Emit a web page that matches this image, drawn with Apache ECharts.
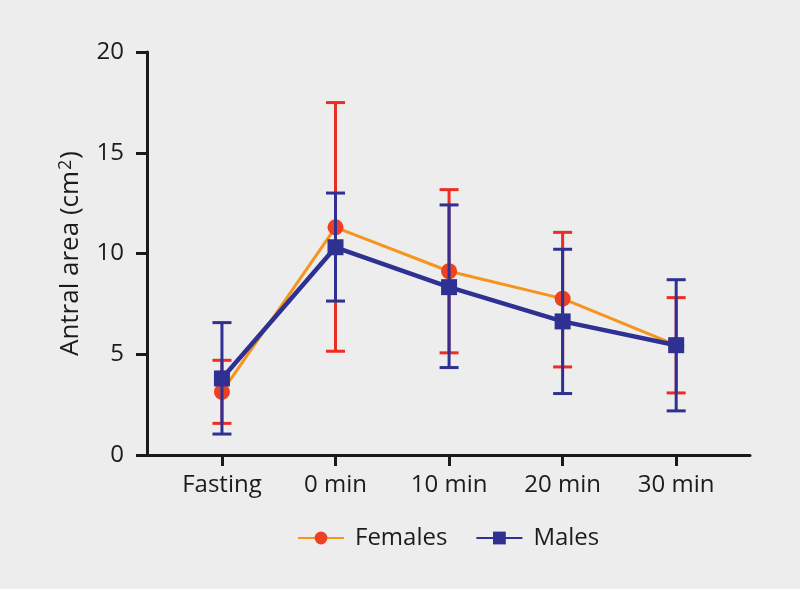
<!DOCTYPE html>
<html>
<head>
<meta charset="utf-8">
<script src="https://cdn.jsdelivr.net/npm/echarts@6/dist/echarts.min.js"></script>
<style>
html,body{margin:0;padding:0;background:#ededed;}
#c{width:800px;height:589px;}
</style>
</head>
<body>
<div id="c"></div>
<script>
var categories = ['Fasting', '0 min', '10 min', '20 min', '30 min'];
var femalesMean = [3.13, 11.3, 9.12, 7.76, 5.45];
var femalesLow  = [1.57, 5.15, 5.07, 4.37, 3.08];
var femalesHigh = [4.70, 17.49, 13.17, 11.05, 7.81];
var malesMean = [3.80, 10.31, 8.33, 6.63, 5.45];
var malesLow  = [1.04, 7.64, 4.34, 3.05, 2.19];
var malesHigh = [6.57, 13.0, 12.41, 10.21, 8.70];
var yTicks = [0, 5, 10, 15, 20];

var FONT = '"Open Sans", "Noto Sans", sans-serif';
var TXT = '#1d1b1c';

function pts(arr) { return arr.map(function (v, i) { return [i, v]; }); }
function errData(lo, hi) { return lo.map(function (v, i) { return [i, v, hi[i]]; }); }
function errRender(color, cap) {
  return function (params, api) {
    var x = api.value(0);
    var p1 = api.coord([x, api.value(1)]);
    var p2 = api.coord([x, api.value(2)]);
    var st = { stroke: color, lineWidth: 3 };
    return {
      type: 'group',
      children: [
        { type: 'line', shape: { x1: p1[0], y1: p1[1], x2: p2[0], y2: p2[1] }, style: st },
        { type: 'line', shape: { x1: p1[0] - cap, y1: p1[1], x2: p1[0] + cap, y2: p1[1] }, style: st },
        { type: 'line', shape: { x1: p2[0] - cap, y1: p2[1], x2: p2[0] + cap, y2: p2[1] }, style: st }
      ]
    };
  };
}

var chart = echarts.init(document.getElementById('c'), null, { renderer: 'canvas' });
chart.setOption({
  backgroundColor: '#ededed',
  animation: false,
  grid: { left: 147, right: 50, top: 52, bottom: 134, containLabel: false },
  xAxis: {
    type: 'value',
    min: -0.66,
    max: 4.65,
    axisLine: { show: true, onZero: false, lineStyle: { color: '#1a1a1a', width: 3 } },
    axisTick: { show: true, length: 11, lineStyle: { color: '#1a1a1a', width: 3 }, customValues: [0, 1, 2, 3, 4] },
    axisLabel: {
      customValues: [0, 1, 2, 3, 4],
      formatter: function (v) { return categories[Math.round(v)]; },
      fontFamily: FONT, fontSize: 24, color: TXT, margin: 18
    },
    splitLine: { show: false }
  },
  yAxis: {
    type: 'value',
    min: 0, max: 20, interval: 5,
    name: '{n|Antral area (cm}{s|2}{n|)}',
    nameLocation: 'middle',
    nameRotate: 90,
    nameGap: 62,
    nameTextStyle: {
      fontFamily: FONT, fontSize: 26, color: TXT,
      rich: {
        n: { fontFamily: FONT, fontSize: 26, color: TXT },
        s: { fontFamily: FONT, fontSize: 18, color: TXT, verticalAlign: 'top', padding: [0, 1, 10, 1] }
      }
    },
    axisLine: { show: true, onZero: false, lineStyle: { color: '#1a1a1a', width: 3 } },
    axisTick: { show: true, length: 11, lineStyle: { color: '#1a1a1a', width: 3 } },
    axisLabel: {
      customValues: yTicks,
      fontFamily: FONT, fontSize: 24, color: TXT, margin: 23
    },
    splitLine: { show: false }
  },
  legend: {
    data: ['Females', 'Males'],
    bottom: 34,
    left: 292,
    itemWidth: 46,
    itemHeight: 16,
    itemGap: 28,
    textStyle: { fontFamily: FONT, fontSize: 24, color: TXT, padding: [0, 0, 0, 6] }
  },
  series: [
    {
      name: 'FemalesErr', type: 'custom', data: errData(femalesLow, femalesHigh),
      encode: { x: 0, y: [1, 2] }, renderItem: errRender('#ec2d24', 9.5), z: 2
    },
    {
      name: 'Females', type: 'line', data: pts(femalesMean),
      symbol: 'circle', symbolSize: 16,
      itemStyle: { color: '#ee4123' },
      lineStyle: { color: '#f7941d', width: 3 },
      z: 3
    },
    {
      name: 'MalesErr', type: 'custom', data: errData(malesLow, malesHigh),
      encode: { x: 0, y: [1, 2] }, renderItem: errRender('#2e3192', 9.5), z: 4
    },
    {
      name: 'Males', type: 'line', data: pts(malesMean),
      symbol: 'rect', symbolSize: 16,
      itemStyle: { color: '#2e3192' },
      lineStyle: { color: '#2e3192', width: 4.5 },
      z: 5
    }
  ]
});
</script>
</body>
</html>
